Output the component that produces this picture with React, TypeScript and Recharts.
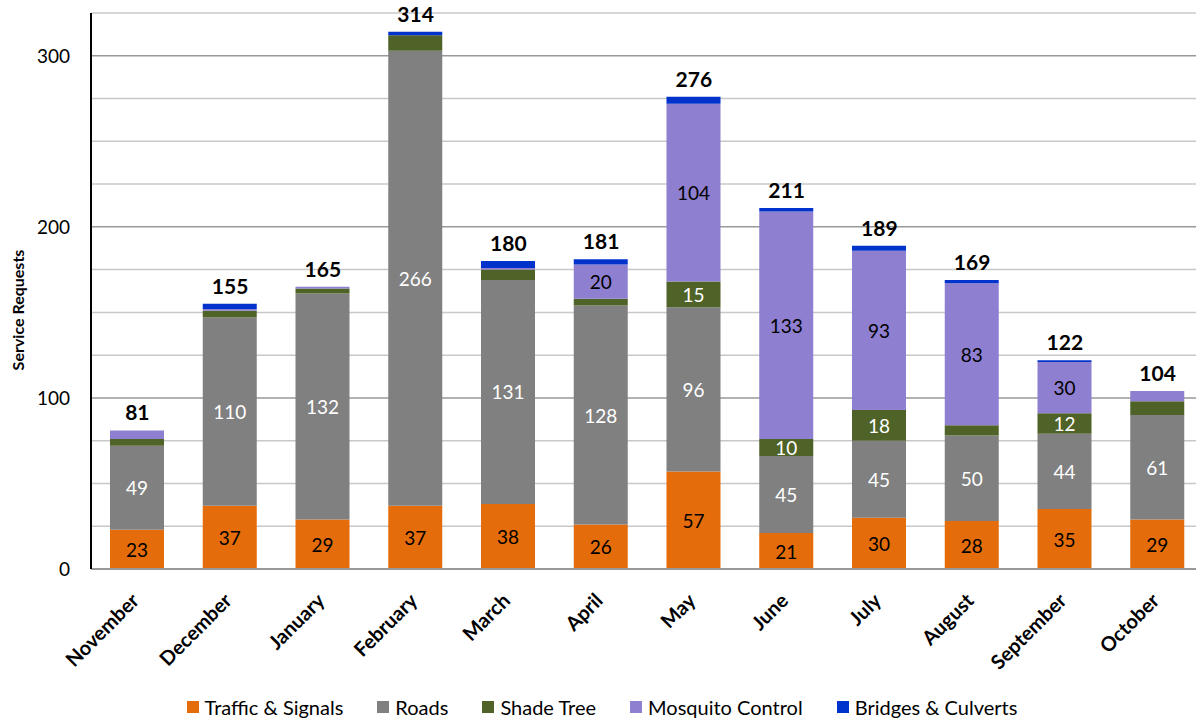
import React from "react";
import {
  ComposedChart,
  Bar,
  Line,
  CartesianGrid,
  XAxis,
  YAxis,
  Legend,
  LabelList,
} from "recharts";

const months = [
  "November", "December", "January", "February", "March", "April",
  "May", "June", "July", "August", "September", "October",
];
const traffic = [23, 37, 29, 37, 38, 26, 57, 21, 30, 28, 35, 29];
const roads = [49, 110, 132, 266, 131, 128, 96, 45, 45, 50, 44, 61];
const shade = [4, 4, 3, 9, 6, 4, 15, 10, 18, 6, 12, 8];
const mosquito = [5, 1, 1, 0, 1, 20, 104, 133, 93, 83, 30, 6];
const bridges = [0, 3, 0, 2, 4, 3, 4, 2, 3, 2, 1, 0];
const totals = [81, 155, 165, 314, 180, 181, 276, 211, 189, 169, 122, 104];

const yTicks = [0, 25, 50, 75, 100, 125, 150, 175, 200, 225, 250, 275, 300, 325];
const majorTicks = [100, 200, 300];
const minorTicks = yTicks.filter((t) => t % 100 !== 0);

const data = months.map((m, i) => ({
  month: m,
  traffic: traffic[i],
  roads: roads[i],
  shade: shade[i],
  mosquito: mosquito[i],
  bridges: bridges[i],
  total: totals[i],
}));

const FONT = "Lato, 'Open Sans', sans-serif";

const series = [
  { key: "traffic", name: "Traffic & Signals", color: "#E46C0A", text: "#000" },
  { key: "roads", name: "Roads", color: "#808080", text: "#fff" },
  { key: "shade", name: "Shade Tree", color: "#4F6228", text: "#fff" },
  { key: "mosquito", name: "Mosquito Control", color: "#8E7FD0", text: "#000" },
  { key: "bridges", name: "Bridges & Culverts", color: "#0033CC", text: "#fff" },
];

function segLabel(color: string) {
  return (props: any) => {
    const { x, y, width, height, value } = props;
    if (value < 10) return null;
    return (
      <text
        x={x + width / 2}
        y={y + height / 2}
        textAnchor="middle"
        dominantBaseline="central"
        fill={color}
        fontSize={19}
        fontFamily={FONT}
      >
        {value}
      </text>
    );
  };
}

// totals sit on an invisible line so zero-height tops still get a label
function totalLabel(props: any) {
  const { x, y, value } = props;
  return (
    <text
      x={x}
      y={y - 10}
      textAnchor="middle"
      fill="#000"
      fontSize={21}
      fontWeight="bold"
      fontFamily={FONT}
    >
      {value}
    </text>
  );
}

function MonthTick(props: any) {
  const { x, y, payload } = props;
  const ax = x + 3;
  const ay = y + 25;
  return (
    <text
      x={ax}
      y={ay}
      textAnchor="end"
      fill="#000"
      fontSize={20}
      fontWeight="bold"
      fontFamily={FONT}
      transform={`rotate(-45, ${ax}, ${ay})`}
    >
      {payload.value}
    </text>
  );
}

function YTitle() {
  return (
    <text
      x={24}
      y={310}
      textAnchor="middle"
      fill="#000"
      fontSize={16}
      fontWeight="bold"
      fontFamily={FONT}
      transform="rotate(-90, 24, 310)"
    >
      Service Requests
    </text>
  );
}

function LegendBox() {
  return (
    <div
      style={{
        display: "flex",
        justifyContent: "center",
        gap: 34,
        fontFamily: FONT,
        fontSize: 20,
        color: "#000",
        paddingTop: 6,
        height: 24,
        lineHeight: "24px",
      }}
    >
      {series.map((s) => (
        <div key={s.key} style={{ display: "flex", alignItems: "center", gap: 6 }}>
          <span style={{ width: 12, height: 12, background: s.color, display: "inline-block" }} />
          <span>{s.name}</span>
        </div>
      ))}
    </div>
  );
}

export default function App() {
  return (
    <div
      style={{
        position: "absolute",
        left: 0,
        top: 0,
        width: 1196,
        height: 719,
        overflow: "hidden",
        background: "#fff",
      }}
    >
      <ComposedChart
        width={1212}
        height={719}
        data={data}
        margin={{ top: 13, right: 8, left: 0, bottom: 0 }}
        barSize={54}
      >
        <CartesianGrid
          vertical={false}
          horizontalValues={minorTicks}
          stroke="#c8c8c8"
          strokeWidth={1.5}
        />
        <CartesianGrid
          vertical={false}
          horizontalValues={majorTicks}
          stroke="#999"
          strokeWidth={1.5}
        />
        <XAxis
          dataKey="month"
          height={120}
          tick={<MonthTick />}
          tickLine={false}
          axisLine={{ stroke: "#999", strokeWidth: 2 }}
          interval={0}
        />
        <YAxis
          width={91}
          domain={[0, 325]}
          ticks={yTicks}
          tickFormatter={(v: number) => (v % 100 === 0 ? String(v) : "")}
          tickLine={false}
          tickSize={0}
          tickMargin={21}
          axisLine={{ stroke: "#000", strokeWidth: 2 }}
          tick={{ fill: "#000", fontSize: 19, fontFamily: FONT }}
          label={<YTitle />}
        />
        <Legend verticalAlign="bottom" content={<LegendBox />} />
        {series.map((s) => (
          <Bar
            key={s.key}
            dataKey={s.key}
            name={s.name}
            stackId="a"
            fill={s.color}
            isAnimationActive={false}
          >
            {s.key !== "bridges" && (
              <LabelList dataKey={s.key} content={segLabel(s.text)} />
            )}
          </Bar>
        ))}
        <Line
          dataKey="total"
          stroke="none"
          dot={false}
          activeDot={false}
          legendType="none"
          isAnimationActive={false}
        >
          <LabelList dataKey="total" content={totalLabel} />
        </Line>
      </ComposedChart>
    </div>
  );
}
